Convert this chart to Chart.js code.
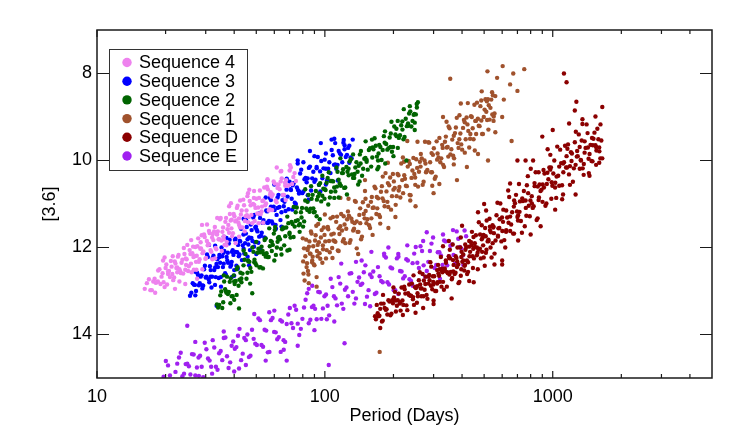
<!DOCTYPE html>
<html>
<head>
<meta charset="utf-8">
<script src="https://cdn.jsdelivr.net/npm/chart.js@4.4.0/dist/chart.umd.min.js"></script>
<style>
  html, body { margin: 0; padding: 0; background: #fff; }
  #wrap { width: 742px; height: 441px; }
</style>
</head>
<body>
<div id="wrap"><canvas id="canvas" width="742" height="441"></canvas></div>
<script>
// [period (days), [3.6] mag] pairs
var seq4 = [
  [16.2,12.95],[16.9,12.73],[17.4,12.98],[17.9,12.72],[18.3,12.80],[18.8,12.50],[19.2,12.67],[19.6,12.80],[20.0,12.47],[20.3,12.85],
  [20.7,12.54],[21.1,12.31],[21.4,12.61],[21.8,12.69],[22.1,12.37],[22.5,12.46],[22.8,12.17],[23.2,12.55],[23.5,12.35],[23.9,12.60],
  [24.2,12.15],[24.6,12.40],[24.9,11.94],[25.3,12.43],[25.7,12.15],[26.0,12.57],[26.4,11.98],[26.8,12.20],[27.2,12.33],[27.6,11.97],
  [28.0,12.33],[28.4,12.03],[28.8,11.72],[29.3,12.09],[29.7,11.76],[30.1,12.24],[30.6,11.95],[31.0,11.62],[31.5,12.06],[32.0,11.77],
  [32.4,11.83],[32.9,11.53],[33.4,12.04],[33.9,11.63],[34.4,11.81],[34.9,11.32],[35.5,11.64],[36.0,11.81],[36.6,11.41],[37.1,11.87],
  [37.7,11.48],[38.3,11.23],[38.9,11.56],[39.5,11.67],[40.1,11.28],[40.8,11.38],[41.4,11.04],[42.1,11.49],[42.8,11.24],[43.5,11.54],
  [44.2,11.03],[44.9,11.28],[45.7,10.82],[46.4,11.30],[47.2,11.03],[48.0,11.44],[48.8,10.86],[49.6,11.09],[50.5,11.22],[51.4,10.86],
  [52.3,11.23],[53.2,10.93],[54.2,10.62],[55.2,10.99],[56.2,10.66],[57.3,11.12],[58.4,10.83],[59.6,10.48],[60.8,10.92],[62.0,10.63],
  [63.3,10.66],[64.7,10.41],[66.1,10.79],[67.6,10.45],[69.2,10.57],[70.9,10.16],[72.7,10.38],[74.6,10.47],
  [22.0,12.95],[27.5,12.72],[19.5,12.30],[33.0,12.25],[46.0,10.75],[56.0,10.45],[38.0,11.05],[64.0,10.25],[29.0,12.50],[42.0,11.75],
  [16.55,12.82],[17.15,12.98],[17.65,12.78],[18.1,12.81],[18.55,12.53],[19.0,12.84],[19.4,12.59],[19.8,12.91],[20.15,12.39],[20.5,12.61],
  [20.9,12.68],[21.25,12.44],[21.6,12.75],[21.95,12.32],[22.3,12.47],[22.65,12.21],[23.0,12.50],[23.35,12.59],[23.7,12.28],[24.05,12.01],
  [24.4,12.51],[24.75,12.27],[25.1,12.54],[25.5,12.06],[25.85,12.37],[26.2,12.13],[26.6,12.51],[27.0,11.99],[27.4,12.19],[27.8,11.79],
  [28.2,12.27],[28.6,12.02],[29.05,12.13],[29.5,11.70],[29.9,12.26],[30.35,11.85],[30.8,11.91],[31.25,11.67],[31.75,12.10],[32.2,11.69],
  [32.65,11.63],[33.15,12.01],[33.65,11.70],[34.15,11.81],[34.65,11.35],[35.2,11.84],[35.75,11.54],[36.3,11.94],[36.85,11.32],[37.4,11.58],
  [38.0,11.66],[38.6,11.38],[39.2,11.74],[39.8,11.23],[40.45,11.40],[41.1,11.09],[41.75,11.43],[42.45,11.54],[43.15,11.15],[43.85,10.90],
  [44.55,11.39],[45.3,11.15],[46.05,11.42],[46.8,10.93],[47.6,11.25],[48.4,11.00],[49.2,11.39],[50.05,10.88],[50.95,11.08],[51.85,10.69],
  [52.75,11.17],[53.7,10.92],[54.7,11.03],[55.7,10.60],[56.75,11.15],[57.85,10.73],[59.0,10.78],[60.2,10.53],[61.4,10.96],[62.65,10.56],
  [64.0,10.48],[65.4,10.79],[66.85,10.51],[68.4,10.58],[70.05,10.23],[71.8,10.54],[73.65,10.29],
  [18.0,13.04],[19.8,12.23],[21.5,12.20],[23.0,12.78],[24.4,12.84],[25.9,11.83],[27.3,12.51],[28.9,11.48],[30.4,11.47],[32.1,12.27],
  [33.7,11.32],[35.3,12.08],[37.0,11.95],[38.7,10.98],[40.6,11.90],[42.5,10.92],[44.5,11.63],[46.6,10.67],[48.9,10.70],[51.2,11.44],
  [53.6,11.43],[56.0,10.43],[58.7,11.14],[61.5,10.16],[64.4,10.24],[67.3,10.91],[70.3,10.11],
  [18.5,12.78],[20.5,12.55],[22.5,12.57],[24.5,12.25],[26.5,12.22],[28.5,11.88],[31.0,11.93],[33.5,11.69],[36.0,11.74],[39.0,11.36],
  [42.0,11.33],[45.5,11.26],[49.0,11.02],[53.0,11.06],[57.5,10.78],[62.0,10.55],[67.0,10.58]
];
var seq3 = [
  [25.6,13.11],[26.3,12.82],[26.9,12.86],[27.5,12.58],[28.0,12.87],[28.5,12.67],[29.0,12.87],[29.5,12.50],[30.0,12.69],[30.4,12.16],
  [30.9,12.73],[31.3,12.43],[31.8,12.92],[32.2,12.24],[32.7,12.52],[33.2,12.68],[33.7,12.27],[34.2,12.70],[34.7,12.35],[35.2,12.00],
  [35.7,12.45],[36.2,12.08],[36.8,12.63],[37.3,12.30],[37.9,11.91],[38.5,12.44],[39.1,12.10],[39.7,12.17],[40.3,11.82],[40.9,12.42],
  [41.6,11.94],[42.2,12.16],[42.9,11.57],[43.6,11.95],[44.3,12.14],[45.0,11.68],[45.8,12.21],[46.5,11.77],[47.3,11.47],[48.1,11.85],
  [48.9,11.98],[49.8,11.52],[50.6,11.63],[51.5,11.22],[52.4,11.73],[53.3,11.43],[54.3,11.77],[55.3,11.15],[56.3,11.43],[57.4,10.86],
  [58.5,11.40],[59.6,11.06],[60.8,11.48],[62.0,10.85],[63.2,11.07],[64.5,11.19],[65.8,10.80],[67.2,11.16],[68.6,10.83],[70.0,10.49],
  [71.5,10.88],[73.0,10.52],[74.6,11.00],[76.2,10.68],[77.9,10.30],[79.6,10.75],[81.4,10.43],[83.2,10.50],[85.1,10.17],[87.0,10.69],
  [89.0,10.26],[91.0,10.44],[93.1,9.92],[95.3,10.25],[97.5,10.41],[99.8,9.98],[102.2,10.46],[104.6,10.04],[107.1,9.76],[109.7,10.10],
  [112.3,10.19],[115.0,9.78],[117.8,9.87],[120.6,9.59],[123.5,9.92],[126.5,9.71],[129.6,9.93],[132.5,9.52],
  [33.5,13.34],[60.0,10.55],[76.0,10.00],[86.0,9.78],[96.0,9.60],[110.0,9.50],[40.0,12.65],[50.0,12.15],[36.0,11.75],[27.0,13.10],[45.0,11.35],[68.0,10.45],
  [25.95,13.04],[26.6,12.85],[27.2,13.00],[27.75,12.63],[28.25,12.82],[28.75,12.64],[29.25,12.88],[29.75,12.42],[30.2,12.67],[30.65,12.22],
  [31.1,12.80],[31.55,12.52],[32.0,12.67],[32.45,12.19],[32.95,12.86],[33.45,12.38],[33.95,12.45],[34.45,12.17],[34.95,12.68],[35.45,12.20],
  [35.95,12.12],[36.5,12.59],[37.05,12.22],[37.6,12.35],[38.2,11.82],[38.8,12.40],[39.4,12.06],[40.0,12.52],[40.6,11.80],[41.25,12.11],
  [41.9,12.20],[42.55,11.86],[43.25,12.29],[43.95,11.70],[44.65,11.90],[45.4,11.53],[46.15,11.93],[46.9,12.06],[47.7,11.60],[48.5,11.31],
  [49.35,11.88],[50.2,11.59],[51.05,11.89],[51.95,11.32],[52.85,11.66],[53.8,11.37],[54.8,11.79],[55.8,11.17],[56.85,11.39],[57.95,10.91],
  [59.05,11.45],[60.2,11.14],[61.4,11.25],[62.6,10.79],[63.85,11.37],[65.15,10.91],[66.5,10.95],[67.9,10.67],[69.3,11.12],[70.75,10.66],
  [72.25,10.57],[73.8,10.97],[75.4,10.62],[77.05,10.71],[78.75,10.21],[80.5,10.71],[82.3,10.40],[84.15,10.80],[86.05,10.14],[88.0,10.41],
  [90.0,10.49],[92.05,10.18],[94.2,10.56],[96.4,10.01],[98.65,10.18],[101.0,9.84],[103.4,10.19],[105.85,10.29],[108.4,9.88],[111.0,9.60],
  [113.65,10.10],[116.4,9.84],[119.2,10.04],[122.05,9.65],[125.0,9.87],[128.05,9.66],[131.05,9.95],
  [27.0,12.56],[29.0,12.94],[31.0,11.94],[33.0,11.96],[35.0,12.90],[37.0,11.78],[39.0,12.68],[41.5,12.49],[44.0,11.34],[46.5,12.41],
  [49.0,11.25],[52.0,12.03],[55.0,10.85],[58.0,10.81],[61.0,11.57],[64.5,11.52],[68.0,10.42],[72.0,11.13],[76.0,10.07],[80.5,10.04],
  [85.0,10.90],[90.0,9.90],[95.5,10.71],[101.0,10.55],[107.0,9.52],[114.0,10.46],[121.0,9.53],[128.0,10.05],
  [31.5,12.67],[33.0,12.46],[34.5,12.22],[36.0,12.37],[37.5,12.12],[39.0,12.33],[40.6,12.10],[42.3,11.85],[44.0,12.03],[45.8,11.81],
  [47.6,11.78],[49.5,11.54],[51.5,11.75],[53.6,11.43],[55.8,11.43],[58.0,11.06],[62.0,11.09],[66.0,11.05],[71.0,10.68],[77.0,10.76],
  [84.0,10.41],[92.0,10.15],[101.0,10.19],[111.0,10.09],[122.0,9.74]
];
var seq2 = [
  [33.6,13.31],[34.4,13.32],[35.1,13.01],[35.8,13.26],[36.5,12.96],[37.2,12.67],[37.9,13.02],[38.6,12.71],[39.4,13.12],[40.2,12.84],
  [41.0,12.50],[41.8,12.88],[42.6,12.58],[43.5,12.60],[44.4,12.28],[45.3,12.72],[46.2,12.32],[47.1,12.47],[48.1,12.00],[49.1,12.28],
  [50.1,12.41],[51.1,12.03],[52.2,12.45],[53.3,12.08],[54.4,11.83],[55.5,12.13],[56.7,12.22],[57.9,11.85],[59.1,11.94],[60.3,11.60],
  [61.6,12.00],[62.9,11.76],[64.2,12.03],[65.6,11.54],[67.0,11.74],[68.4,11.29],[69.9,11.69],[71.4,11.41],[72.9,11.76],[74.5,11.19],
  [76.1,11.37],[77.7,11.46],[79.4,11.09],[81.1,11.40],[82.9,11.10],[84.7,10.79],[86.5,11.11],[88.4,10.79],[90.3,11.18],[92.3,10.90],
  [94.3,10.56],[96.4,10.94],[98.5,10.65],[100.7,10.68],[102.9,10.40],[105.2,10.85],[107.5,10.47],[109.9,10.62],[112.4,10.16],[114.9,10.44],
  [117.5,10.58],[120.2,10.20],[122.9,10.62],[125.7,10.26],[128.6,10.02],[131.5,10.32],[134.5,10.40],[137.6,10.04],[140.8,10.12],[144.0,9.78],
  [147.3,10.19],[150.7,9.94],[154.2,10.21],[157.8,9.72],[161.5,9.93],[165.3,9.49],[169.2,9.91],[173.2,9.64],[177.3,9.99],[181.5,9.44],
  [185.8,9.62],[190.2,9.72],[194.7,9.38],[199.3,9.69],[204.0,9.40],[208.8,9.09],[213.7,9.42],[218.7,9.10],[223.8,9.46],[229.0,9.21],
  [234.3,8.92],[239.7,9.22],[245.2,8.95],[250.8,8.94],[256.0,8.66],
  [48.0,13.05],[70.0,12.05],[95.0,11.35],[228.0,10.00],[253.0,8.70],[140.0,10.55],[60.0,12.30],[40.0,13.20],[115.0,10.85],[200.0,9.90],[42.0,13.40],[170.0,10.20],
  [34.0,13.38],[34.75,13.10],[35.45,13.39],[36.15,12.78],[36.85,13.01],[37.55,13.07],[38.25,12.79],[39.0,13.12],[39.8,12.64],[40.6,12.77],
  [41.4,12.45],[42.2,12.74],[43.05,12.80],[43.95,12.41],[44.85,12.15],[45.75,12.58],[46.65,12.33],[47.6,12.56],[48.6,12.10],[49.6,12.36],
  [50.6,12.12],[51.65,12.46],[52.75,11.98],[53.85,12.15],[54.95,11.79],[56.1,12.22],[57.3,11.97],[58.5,12.08],[59.7,11.68],[60.95,12.17],
  [62.25,11.78],[63.55,11.81],[64.9,11.58],[66.3,11.95],[67.7,11.54],[69.15,11.44],[70.65,11.77],[72.15,11.46],[73.7,11.52],[75.3,11.08],
  [76.9,11.49],[78.55,11.19],[80.25,11.52],[82.0,10.92],[83.8,11.14],[85.6,11.18],[87.45,10.88],[89.35,11.19],[91.3,10.70],[93.3,10.83],
  [95.35,10.52],[97.45,10.81],[99.6,10.88],[101.8,10.51],[104.05,10.27],[106.35,10.72],[108.7,10.48],[111.15,10.71],[113.65,10.26],[116.2,10.53],
  [118.85,10.29],[121.55,10.63],[124.3,10.15],[127.15,10.34],[130.05,9.97],[133.0,10.40],[136.05,10.16],[139.2,10.26],[142.4,9.86],[145.65,10.35],
  [149.0,9.96],[152.45,9.99],[156.0,9.76],[159.65,10.14],[163.4,9.74],[167.25,9.66],[171.2,10.00],[175.25,9.69],[179.4,9.76],[183.65,9.33],
  [188.0,9.75],[192.45,9.47],[197.0,9.80],[201.65,9.22],[206.4,9.44],[211.25,9.48],[216.2,9.19],[221.25,9.51],[226.4,9.04],[231.65,9.15],
  [237.0,8.87],[242.45,9.09],[248.0,9.13],[253.4,8.78],
  [36.0,12.64],[38.5,13.28],[41.0,13.09],[44.0,12.07],[47.0,12.83],[50.0,11.87],[53.5,12.48],[57.0,11.56],[60.5,11.53],[64.5,12.16],
  [68.5,12.07],[73.0,11.07],[77.5,11.64],[82.0,10.66],[87.0,10.59],[92.0,11.28],[97.5,10.35],[103.5,11.01],[110.0,10.86],[117.0,9.95],
  [125.0,10.78],[133.0,9.86],[142.0,10.48],[151.0,9.56],[161.0,9.52],[172.0,10.15],[184.0,10.07],[196.0,9.11],[209.0,9.71],[222.0,8.82],
  [236.0,8.75],[248.0,9.30],
  [37.0,13.04],[40.0,12.78],[43.0,12.71],[46.0,12.30],[49.0,12.34],[52.0,12.11],[55.0,12.21],[58.5,11.87],[62.0,11.87],[66.0,11.56],
  [70.0,11.66],[74.5,11.39],[79.0,11.31],[84.0,10.95],[89.0,11.10],[94.5,10.76],[100.0,10.66],[106.0,10.47],[113.0,10.60],[120.0,10.29],
  [127.0,10.19],[135.0,10.31],[143.5,10.07],[152.5,10.03],[162.0,9.70],[172.0,9.84],[183.0,9.59],[194.0,9.69],[206.0,9.27],[219.0,9.29],
  [233.0,9.20],[247.0,8.93]
];
var seq1 = [
  [80.0,11.79],[80.3,12.32],[80.6,12.60],[81.0,12.02],[81.5,12.76],[82.1,12.20],[82.8,11.82],[83.5,12.36],[84.3,12.54],[85.1,11.98],
  [86.0,12.14],[86.9,11.63],[87.9,12.34],[88.9,11.97],[90.0,12.41],[91.1,11.72],[92.3,12.08],[93.5,11.46],[94.8,12.13],[96.1,11.77],
  [97.5,12.35],[98.9,11.54],[100.4,11.86],[101.9,12.06],[103.5,11.58],[105.1,12.11],[106.8,11.70],[108.5,11.30],[110.3,11.85],[112.1,11.41],
  [114.0,12.07],[115.9,11.69],[117.9,11.23],[119.9,11.86],[122.0,11.47],[124.1,11.57],[126.3,11.17],[128.5,11.89],[130.8,11.34],[133.1,11.61],
  [135.5,10.93],[137.9,11.40],[140.4,11.64],[142.9,11.10],[145.5,11.75],[148.1,11.23],[150.8,10.88],[153.6,11.35],[156.4,11.49],[159.3,10.95],
  [162.2,11.09],[165.2,10.60],[168.3,11.23],[171.4,10.87],[174.6,11.30],[177.9,10.59],[181.2,10.93],[184.6,10.29],[188.1,10.95],[191.6,10.57],
  [195.2,11.13],[198.9,10.31],[202.7,10.63],[206.5,10.82],[210.4,10.34],[214.4,10.85],[218.5,10.45],[222.6,10.03],[226.8,10.58],[231.1,10.14],
  [235.5,10.79],[240.0,10.40],[244.6,9.94],[249.3,10.56],[254.0,10.17],[258.8,10.26],[263.7,9.85],[268.7,10.56],[273.8,10.00],[279.0,10.26],
  [284.3,9.58],[289.7,10.04],[295.2,10.27],[300.8,9.72],[306.5,10.37],[312.3,9.84],[318.2,9.48],[324.2,9.95],[330.3,10.10],[336.5,9.57],
  [342.8,9.70],[349.2,9.22],[355.7,9.86],[362.3,9.52],[369.0,9.95],[375.8,9.24],[382.7,9.60],[389.7,8.96],[396.8,9.63],[404.0,9.25],
  [411.3,9.82],[418.7,9.01],[426.2,9.32],[433.8,9.50],[441.5,9.00],[449.3,9.51],[457.2,9.09],[465.2,8.67],[473.3,9.20],[481.5,8.75],
  [489.8,9.39],[498.2,9.00],[506.7,8.59],[515.3,9.07],[524.0,8.73],[532.8,8.79],[541.7,8.43],[550.7,8.99],[559.8,8.52],
  [174,14.40],[355,8.12],[517,7.95],[603,7.83],[671,8.00],[750,7.90],[650,8.25],[700,8.40],[570,8.10],[600,9.00],[660,9.55],[520,10.00],[470,9.85],
  [560,9.35],[420,10.15],[380,10.45],[300,10.75],[250,11.05],[190,11.55],[140,12.15],[92,12.90],[150,10.45],[230,9.55],[330,9.00],[610,8.60],
  [83.15,12.45],[83.9,12.03],[84.7,12.62],[85.55,11.86],[86.45,12.14],[87.4,11.68],[88.4,12.21],[89.45,12.39],[90.55,11.84],[91.7,11.50],
  [92.9,12.20],[94.15,11.88],[95.45,12.26],[96.8,11.60],[98.2,12.04],[99.65,11.71],[101.15,12.25],[102.7,11.55],[104.3,11.85],[105.95,11.33],
  [107.65,12.01],[109.4,11.68],[111.2,11.87],[113.05,11.29],[114.95,12.08],[116.9,11.51],[118.9,11.61],[120.95,11.28],[123.05,11.90],[125.2,11.35],
  [127.4,11.27],[129.65,11.83],[131.95,11.41],[134.3,11.57],[136.7,10.95],[139.15,11.64],[141.65,11.25],[144.2,11.81],[146.8,10.96],[149.45,11.33],
  [152.2,11.44],[155.0,11.04],[157.85,11.55],[160.75,10.84],[163.7,11.08],[166.75,10.64],[169.85,11.10],[173.0,11.25],[176.25,10.72],[179.55,10.37],
  [182.9,11.05],[186.35,10.71],[189.85,11.07],[193.4,10.39],[197.05,10.82],[200.8,10.48],[204.6,11.02],[208.45,10.31],[212.4,10.61],[216.45,10.07],
  [220.55,10.75],[224.7,10.42],[228.95,10.59],[233.3,10.01],[237.75,10.80],[242.3,10.23],[246.95,10.31],[251.65,9.97],[256.4,10.60],[261.25,10.03],
  [266.2,9.95],[271.25,10.49],[276.4,10.07],[281.65,10.22],[287.0,9.59],[292.45,10.27],[298.0,9.87],[303.65,10.42],[309.4,9.56],[315.25,9.93],
  [321.2,10.04],[327.25,9.64],[333.4,10.15],[339.65,9.45],[346.0,9.69],[352.45,9.26],[359.0,9.74],[365.65,9.89],[372.4,9.37],[379.25,9.02],
  [386.2,9.71],[393.25,9.38],[400.4,9.75],[407.65,9.07],[415.0,9.51],[422.45,9.17],[430.0,9.70],[437.65,8.98],[445.4,9.26],[453.25,8.72],
  [461.2,9.39],[469.25,9.04],[477.4,9.21],[485.65,8.62],[494.0,9.39],[502.45,8.83],[511.0,8.88],[519.65,8.59],[528.4,9.06],[537.25,8.60],
  [546.2,8.50],[555.25,8.92],
  [85,12.82],[92,12.68],[100,11.24],[108,12.24],[117,10.86],[127,10.88],[138,12.02],[150,10.70],[162,11.71],[175,11.45],
  [189,10.05],[204,11.30],[220,9.93],[237,10.92],[255,9.57],[275,9.57],[296,10.58],[318,10.54],[342,9.11],[368,10.09],
  [395,8.69],[424,8.68],[455,9.77],[488,8.41],[522,9.29],[550,9.09],
  [84,12.06],[88,12.30],[93,11.94],[98,11.95],[103,11.53],[109,11.84],[115,11.56],[121,11.81],[128,11.29],[135,11.44],
  [143,11.44],[151,11.16],[160,11.33],[169,10.84],[179,10.87],[189,10.52],[200,10.67],[211,10.69],[223,10.34],[236,10.08],
  [249,10.39],[263,10.14],[278,10.27],[294,9.83],[311,9.98],[329,9.71],[348,9.91],[368,9.43],[389,9.51],[411,9.12],
  [435,9.39],[460,9.09],[486,9.08],[514,8.64],[543,8.94]
];
var seqD = [
  [166,13.58],[169,13.32],[172,13.58],[175,13.41],[178,13.70],[181,13.29],[185,13.43],[188,13.54],[192,13.24],[196,13.52],
  [199,13.28],[203,13.02],[207,13.34],[211,13.06],[215,13.45],[219,13.22],[223,12.90],[228,13.33],[232,13.05],[237,13.11],
  [241,12.83],[246,13.32],[251,12.93],[256,13.12],[261,12.57],[266,12.94],[271,13.12],[277,12.67],[282,13.18],[288,12.75],
  [293,12.44],[299,12.85],[305,13.00],[311,12.52],[317,12.65],[323,12.22],[330,12.79],[336,12.48],[343,12.90],[350,12.20],
  [357,12.56],[364,11.93],[371,12.61],[378,12.24],[386,12.82],[393,12.00],[401,12.33],[409,12.53],[417,11.99],[425,12.56],
  [434,12.10],[442,11.64],[451,12.25],[460,11.72],[469,12.50],[479,12.03],[488,11.49],[498,12.23],[508,11.74],[518,11.86],
  [528,11.34],[539,12.23],[550,11.52],[561,11.84],[572,10.97],[583,11.55],[595,11.86],[607,11.13],[619,12.00],[631,11.31],
  [644,10.84],[657,11.47],[670,11.68],[683,10.98],[697,11.17],[711,10.54],[725,11.39],[740,10.93],[754,11.51],[770,10.57],
  [785,11.04],[801,10.19],[817,11.09],[833,10.59],[850,11.37],[867,10.27],[884,10.70],[902,10.95],[920,10.30],[938,10.99],
  [957,10.43],[976,9.87],[996,10.58],[1016,10.00],[1036,10.86],[1057,10.35],[1078,9.75],[1099,10.57],[1121,10.04],[1144,10.16],
  [1167,9.63],[1190,10.56],[1214,9.84],[1238,10.18],[1263,9.34],[1288,9.90],[1314,10.19],[1340,9.54],[1367,10.33],[1394,9.71],
  [1422,9.37],[1451,9.85],[1480,10.01],[1509,9.50],[1540,9.65],[1570,9.27],[1602,9.79],[1634,9.54],
  [1120,8.00],[1150,8.20],[1270,8.65],[1250,8.85],[1650,8.77],[1350,9.05],[1600,10.05],[1650,9.95],[1550,10.10],[900,9.45],
  [700,10.00],[1000,9.30],[175,13.85],[250,13.50],[1450,10.35],[400,11.50],[500,11.00],[350,11.85],[300,13.30],[450,12.80],
  [600,12.30],[800,11.70],
  [315,12.60],[340,12.35],[362,12.70],[380,12.45],[398,12.10],[412,12.40],[430,11.85],[445,12.20],[465,12.00],[480,11.70],
  [495,11.95],[512,12.05],[530,11.60],[545,11.90],[325,12.90],[355,12.25],[395,12.65],[420,12.30],[455,11.90],[505,11.55],
  [167.5,13.65],[170.5,13.51],[173.5,13.57],[176.5,13.29],[179.5,13.68],[183,13.39],[186.5,13.42],[190,13.21],[194,13.56],[197.5,13.21],
  [201,13.15],[205,13.47],[209,13.21],[213,13.29],[217,12.92],[221,13.32],[225.5,13.06],[230,13.44],[234.5,12.85],[239,13.11],
  [243.5,13.19],[248.5,12.91],[253.5,13.27],[258.5,12.75],[263.5,12.94],[268.5,12.61],[274,12.97],[279.5,13.09],[285,12.67],[290.5,12.34],
  [296,12.96],[302,12.66],[308,13.00],[314,12.40],[320,12.79],[326.5,12.49],[333,12.97],[339.5,12.30],[346.5,12.59],[353.5,12.05],
  [360.5,12.73],[367.5,12.40],[374.5,12.58],[382,12.00],[389.5,12.79],[397,12.22],[405,12.30],[413,11.93],[421,12.61],[429.5,11.98],
  [438,11.88],[446.5,12.47],[455.5,11.99],[464.5,12.18],[474,11.42],[483.5,12.25],[493,11.77],[503,12.42],[513,11.38],[523,11.85],
  [533.5,12.00],[544.5,11.49],[555.5,12.14],[566.5,11.26],[577.5,11.56],[589,10.99],[601,11.62],[613,11.83],[625,11.15],[637.5,10.69],
  [650.5,11.62],[663.5,11.19],[676.5,11.68],[690,10.79],[704,11.38],[718,10.94],[732.5,11.66],[747,10.70],[762,11.09],[777.5,10.36],
  [793,11.28],[809,10.82],[825,11.05],[841.5,10.27],[858.5,11.33],[875.5,10.55],[893,10.67],[911,10.22],[929,11.04],[947.5,10.28],
  [966.5,10.16],[986,10.88],[1006,10.30],[1026,10.51],[1046.5,9.68],[1067.5,10.58],[1088.5,10.06],[1110,10.78],[1132.5,9.66],[1155.5,10.16],
  [1178.5,10.32],[1202,9.81],[1226,10.49],[1250.5,9.58],[1275.5,9.91],[1301,9.40],[1327,9.99],[1353.5,10.18],[1380.5,9.56],[1408,9.17],
  [1436.5,9.96],[1465.5,9.64],[1494.5,10.02],[1524.5,9.36],[1555,9.77],[1586,9.51],[1618,9.95],
  [180,13.09],[200,12.92],[220,13.55],[245,12.64],[270,13.39],[300,13.22],[330,11.97],[360,13.17],[395,11.77],[430,12.77],
  [470,11.19],[510,11.15],[555,12.39],[600,12.39],[650,10.53],[705,11.84],[760,10.00],[820,10.00],[885,11.51],[950,9.74],
  [1025,11.13],[1100,10.89],[1180,9.15],[1260,10.78],[1350,9.16],[1440,10.29],[1540,8.99],[1620,9.17],
  [255,13.05],[272,12.76],[285,12.83],[298,12.66],[312,12.80],[328,12.57],[345,12.57],[365,12.29],[385,12.39],[405,12.16],
  [425,12.34],[448,12.03],[472,12.05],[497,11.71],[522,11.82],[548,11.54],[575,11.75],[605,11.41],[640,11.43],[675,11.06],
  [715,11.18],[760,10.92],[810,10.99],[860,10.60],[915,10.62],[975,10.21],[1040,10.37],[1110,10.07],[1190,10.13],[1280,9.78],
  [1380,9.82],[1500,9.65],
  [262,12.85],[292,12.88],[318,12.50],[352,12.62],[375,12.20],[410,12.42],[440,11.95],[490,12.10],[535,11.65],[585,11.35],
  [625,11.60],[700,11.30],[780,10.75],[870,10.85],[990,10.50],[1150,9.90],[1330,10.00],[1600,9.70],
  [205,13.22],[214,13.26],[224,12.96],[234,13.09],[244,13.14],[254,12.89],[265,13.12],[276,12.84],[287,12.63],[299,12.79],
  [311,12.83],[324,12.52],[337,12.54],[351,12.24],[366,12.55],[381,12.32],[397,12.50],[414,12.05],[431,12.20],[449,11.76],
  [468,12.12],[488,11.81],[509,12.12],[530,11.52],[552,11.67],[575,11.73],[599,11.31],[624,11.64],[650,11.29],[677,10.92],
  [705,11.26],[735,10.87],[766,11.27],[798,10.92],[832,10.52],[867,10.91],[904,10.55],[942,10.54],[982,10.16],[1024,10.62],
  [1068,10.14],[1113,10.27],[1160,9.73],[1209,10.01],[1260,10.10],[1313,9.69],[1369,10.08],[1427,9.70],[1487,9.48],[1550,9.69]
];
var seqE = [
  [19.6,14.97],[20.5,14.71],[21.3,15.09],[22.1,14.86],[22.9,14.53],[23.7,14.96],[24.5,14.68],[25.3,14.73],[26.1,14.45],[27.0,14.94],
  [27.9,14.53],[28.8,14.74],[29.7,14.19],[30.7,14.55],[31.7,14.74],[32.7,14.30],[33.8,14.81],[34.9,14.38],[36.0,14.08],[37.2,14.50],
  [38.4,14.64],[39.6,14.16],[40.9,14.29],[42.2,13.87],[43.6,14.44],[45.0,14.13],[46.4,14.52],[47.9,13.89],[49.5,14.21],[51.1,13.63],
  [52.7,14.24],[54.4,13.89],[56.2,14.41],[58.0,13.67],[59.9,13.94],[61.8,14.11],[63.8,13.67],[65.9,14.13],[68.0,13.76],[70.2,13.39],
  [72.5,13.85],[74.8,13.43],[77.2,14.01],[79.7,13.64],[82.3,13.20],[85.0,13.74],[87.7,13.37],[90.6,13.41],[93.5,13.02],[96.5,13.64],
  [99.6,13.12],[102.8,13.34],[106.1,12.72],[109.6,13.12],[113.1,13.33],[116.8,12.83],[120.5,13.41],[124.4,12.92],[128.5,12.60],[132.6,13.02],
  [136.9,13.17],[141.3,12.69],[145.9,12.83],[150.6,12.41],[155.5,12.98],[160.5,12.68],[165.7,13.07],[171.0,12.45],[176.6,12.77],[182.3,12.19],
  [188.2,12.80],[194.2,12.46],[200.5,12.98],[207.0,12.25],[213.7,12.54],[220.6,12.71],[227.7,12.27],[235.1,12.73],[242.7,12.36],[250.5,11.99],
  [258.6,12.47],[267.0,12.08],[275.6,12.67],[284.5,12.33],[293.7,11.91],[303.2,12.47],[313.0,12.11],[323.1,12.18],[333.6,11.84],[344.4,12.41],
  [355.5,11.96],[367.0,12.17],[378.9,11.63],[391.1,11.99],[403.8,12.18],[416.8,11.74],
  [122,14.20],[104,14.70],[68,14.60],[24.9,13.80],[160,12.10],[190,12.00],[230,11.95],[270,11.85],[330,11.70],[145,12.30],
  [210,12.15],[28,14.95],[32,14.90],[45,14.70],[55,14.60],[40,14.85],[64,14.40],[90,13.90],[110,13.70],[150,13.30],
  [85,12.95],[60,13.45],[200,13.20],
  [20.05,14.61],[20.9,14.94],[21.7,15.04],[22.5,14.67],[23.3,14.42],[24.1,14.90],[24.9,14.67],[25.7,14.92],[26.55,14.46],[27.45,14.76],
  [28.35,14.49],[29.25,14.98],[30.2,14.34],[31.2,14.60],[32.2,14.13],[33.25,14.74],[34.35,14.43],[35.45,14.59],[36.6,14.07],[37.8,14.77],
  [39.0,14.26],[40.25,14.33],[41.55,14.03],[42.9,14.59],[44.3,14.08],[45.7,14.00],[47.15,14.49],[48.7,14.10],[50.3,14.24],[51.9,13.67],
  [53.55,14.28],[55.3,13.91],[57.1,14.40],[58.95,13.62],[60.85,13.95],[62.8,14.06],[64.85,13.70],[66.95,14.17],[69.1,13.54],[71.35,13.74],
  [73.65,13.34],[76.0,13.75],[78.45,13.87],[81.0,13.38],[83.65,13.05],[86.35,13.66],[89.15,13.34],[92.05,13.65],[95.0,13.03],[98.05,13.40],
  [101.2,13.08],[104.45,13.56],[107.85,12.91],[111.35,13.17],[114.95,12.68],[118.65,13.29],[122.45,12.97],[126.45,13.12],[130.55,12.59],[134.75,13.29],
  [139.1,12.79],[143.6,12.86],[148.25,12.57],[153.05,13.13],[158.0,12.62],[163.1,12.55],[168.35,13.04],[173.8,12.66],[179.45,12.80],[185.25,12.23],
  [191.2,12.85],[197.35,12.48],[203.75,12.98],[210.35,12.21],[217.15,12.55],[224.15,12.66],[231.4,12.30],[238.9,12.77],[246.6,12.14],[254.55,12.35],
  [262.8,11.97],[271.3,12.41],[280.05,12.54],[289.1,12.08],[298.45,11.77],[308.1,12.40],[318.05,12.11],[328.35,12.40],[339.0,11.86],[349.95,12.20],
  [361.25,11.93],[372.95,12.37],[385.0,11.80],[397.45,12.03],[410.3,11.61],
  [27,14.17],[36,13.93],[42,14.78],[49,13.53],[57,13.49],[66,14.35],[76,14.26],[88,12.88],[102,13.65],[118,12.37],
  [137,12.33],[158,13.35],[182,12.14],[210,13.07],[243,12.88],[280,11.65],[320,12.72],[365,11.60],[405,12.40]
];

var seriesNames = ['Sequence 4', 'Sequence 3', 'Sequence 2', 'Sequence 1', 'Sequence D', 'Sequence E'];
var seriesData = [seq4, seq3, seq2, seq1, seqD, seqE];
var seriesColors = ['#EE82EE', '#0000FF', '#006400', '#A0522D', '#8B0000', '#A020F0'];
// lower number is painted last (on top)
var drawOrder = [0, 2, 1, 3, 4, 5];

var xMajorTicks = [10, 100, 1000];
var xMinorTicks = [20, 30, 40, 50, 60, 70, 80, 90, 200, 300, 400, 500, 600, 700, 800, 900, 2000, 3000, 4000];
var yTicks = [8, 10, 12, 14];

var FONT = '18px "Liberation Sans", Arial, Helvetica, sans-serif';

function toPoints(arr) {
  return arr.map(function (p) { return { x: p[0], y: p[1] }; });
}

var framePlugin = {
  id: 'frame',
  afterDraw: function (chart) {
    var ctx = chart.ctx, a = chart.chartArea;
    var xs = chart.scales.x, ys = chart.scales.y;
    ctx.save();

    ctx.strokeStyle = '#1a1a1a';
    ctx.lineWidth = 1.5;
    ctx.strokeRect(a.left, a.top, a.right - a.left, a.bottom - a.top);

    ctx.lineWidth = 1.2;
    ctx.beginPath();
    xMajorTicks.forEach(function (v) {
      var px = xs.getPixelForValue(v);
      ctx.moveTo(px, a.bottom); ctx.lineTo(px, a.bottom - 7);
      ctx.moveTo(px, a.top); ctx.lineTo(px, a.top + 7);
    });
    xMinorTicks.forEach(function (v) {
      var px = xs.getPixelForValue(v);
      ctx.moveTo(px, a.bottom); ctx.lineTo(px, a.bottom - 4);
      ctx.moveTo(px, a.top); ctx.lineTo(px, a.top + 4);
    });
    yTicks.forEach(function (v) {
      var py = ys.getPixelForValue(v);
      ctx.moveTo(a.left, py); ctx.lineTo(a.left + 12, py);
      ctx.moveTo(a.right, py); ctx.lineTo(a.right - 12, py);
    });
    ctx.stroke();

    ctx.fillStyle = '#000';
    ctx.font = FONT;
    ctx.textBaseline = 'middle';
    ctx.textAlign = 'center';
    xMajorTicks.forEach(function (v) {
      ctx.fillText(String(v), xs.getPixelForValue(v), a.bottom + 19);
    });
    ctx.textAlign = 'right';
    yTicks.forEach(function (v) {
      ctx.fillText(String(v), a.left - 5, ys.getPixelForValue(v));
    });

    ctx.textAlign = 'center';
    ctx.fillText('Period (Days)', (a.left + a.right) / 2, a.bottom + 38);
    ctx.save();
    ctx.translate(50, (a.top + a.bottom) / 2);
    ctx.rotate(-Math.PI / 2);
    ctx.fillText('[3.6]', 0, 0);
    ctx.restore();

    // legend box
    var lx = 109, ly = 49, lw = 138, lh = 121;
    ctx.fillStyle = '#fff';
    ctx.fillRect(lx, ly, lw, lh);
    ctx.strokeStyle = '#333';
    ctx.lineWidth = 1;
    ctx.strokeRect(lx + 0.5, ly + 0.5, lw, lh);
    ctx.textAlign = 'left';
    seriesNames.forEach(function (name, i) {
      var ry = 62.5 + i * 18.7;
      ctx.fillStyle = seriesColors[i];
      ctx.beginPath();
      ctx.arc(127, ry, 4.7, 0, Math.PI * 2);
      ctx.fill();
      ctx.fillStyle = '#000';
      ctx.fillText(name, 139, ry + 1);
    });

    ctx.restore();
  }
};

new Chart(document.getElementById('canvas'), {
  type: 'scatter',
  data: {
    datasets: seriesNames.map(function (name, i) {
      return {
        label: name,
        data: toPoints(seriesData[i]),
        order: drawOrder[i],
        backgroundColor: seriesColors[i],
        borderWidth: 0,
        pointRadius: 2.2,
        pointHoverRadius: 2.2
      };
    })
  },
  options: {
    responsive: false,
    animation: false,
    devicePixelRatio: 1,
    layout: { padding: { left: 97, right: 30, top: 30, bottom: 63 } },
    plugins: { legend: { display: false }, tooltip: { enabled: false } },
    scales: {
      x: { type: 'logarithmic', min: 10, max: 5000, display: false },
      y: { type: 'linear', min: 7, max: 15, reverse: true, display: false }
    }
  },
  plugins: [framePlugin]
});
</script>
</body>
</html>
